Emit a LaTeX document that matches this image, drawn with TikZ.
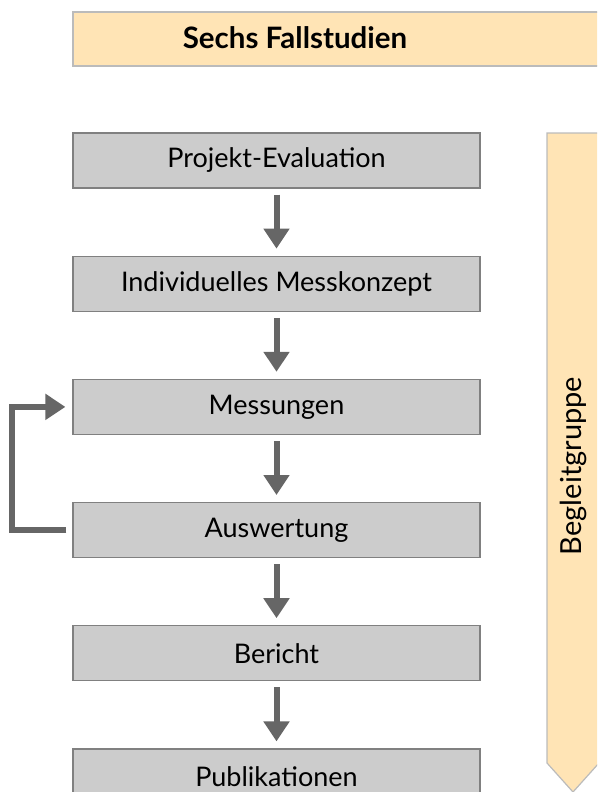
\documentclass[tikz,border=0pt]{standalone}
\usepackage{fontspec}
\setmainfont{Lato}
\usepackage{xcolor}
\usepackage{tikz}
\usetikzlibrary{arrows.meta}
\usetikzlibrary{positioning}

\definecolor{sand}{HTML}{FFE4B5}
\definecolor{sandline}{HTML}{BBBBBB}
\definecolor{boxgray}{HTML}{CCCCCC}
\definecolor{boxline}{HTML}{808080}
\definecolor{arrowgray}{HTML}{666666}

\tikzset{
  stage/.style={draw=boxline, line width=1.2pt, fill=boxgray,
    minimum width=407pt, minimum height=55pt, inner sep=0pt,
    font=\fontsize{27}{32}\selectfont},
  flow/.style={draw=arrowgray, line width=6pt,
    -{Triangle[length=20pt,width=25pt]}},
}

\begin{document}
\begin{tikzpicture}[x=1pt, y=-1pt, node distance=67pt]
    \useasboundingbox (0,0) rectangle (597,792);
    \clip (0,0) rectangle (597,792);
    % banner on top
    \fill[sand, draw=sandline, line width=1.2pt] (73,12) rectangle (605,66);
    \node[font=\bfseries\fontsize{29.5}{34}\selectfont] (title) at (295,38) {Sechs Fallstudien};
    % side arrow
    \filldraw[fill=sand, draw=sandline, line width=1.2pt]
      (547,133) -- (547,763) -- (573,792) -- (599,763) -- (599,133) -- cycle;
    \node[rotate=90, font=\fontsize{29}{34}\selectfont] (beg) at (573,466) {Begleitgruppe};
    % the steps
    \node[stage] (proj) at (276.5,160.5) {Projekt-Evaluation};
    \node[stage, below=of proj] (konz) {Individuelles Messkonzept};
    \node[stage, below=of konz] (mess) {Messungen};
    \node[stage, below=of mess] (ausw) {Auswertung};
    \node[stage, below=of ausw] (ber) {Bericht};
    \node[stage, below=of ber] (pub) {Publikationen};
    \foreach \a/\b in {proj/konz, konz/mess, mess/ausw, ausw/ber, ber/pub}
      \draw[flow, shorten <=6pt, shorten >=7pt] (\a.south) -- (\b.north);
    % loop back
    \draw[flow] ([xshift=-6pt]ausw.west) -- ++(-54,0) |- ([xshift=-7pt]mess.west);
\end{tikzpicture}
\end{document}
